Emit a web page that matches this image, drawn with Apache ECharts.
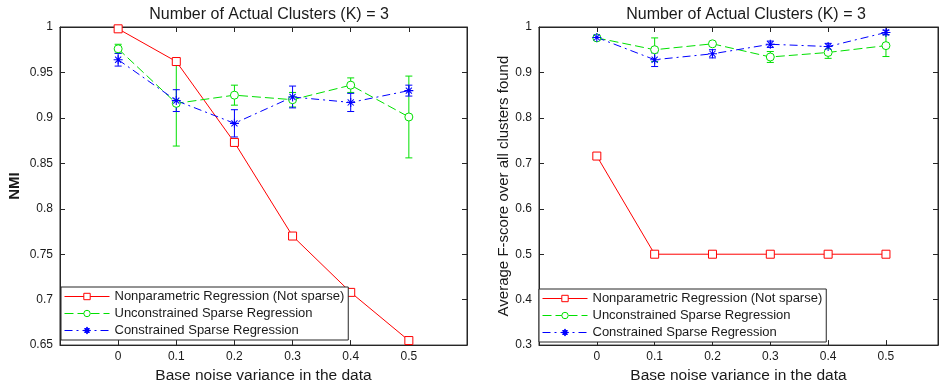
<!DOCTYPE html>
<html>
<head>
<meta charset="utf-8">
<script src="https://cdn.jsdelivr.net/npm/echarts@6/dist/echarts.min.js"></script>
<style>html,body{margin:0;padding:0;background:#fff;}#c{width:942px;height:389px;}</style>
</head>
<body>
<div id="c"></div>
<script>
// ---- data ----
const xVals = [0, 0.1, 0.2, 0.3, 0.4, 0.5];
const seriesNames = ['Nonparametric Regression (Not sparse)', 'Unconstrained Sparse Regression', 'Constrained Sparse Regression'];

const nmiNonparam    = [0.998, 0.962, 0.873, 0.770, 0.708, 0.655];
const nmiNonparamErr = [0.002, 0.002, 0.003, 0.002, 0.002, 0.003];
const nmiUncon       = [0.976, 0.916, 0.925, 0.920, 0.936, 0.901];
const nmiUnconErr    = [0.005, 0.047, 0.011, 0.008, 0.008, 0.045];
const nmiCon         = [0.964, 0.919, 0.894, 0.923, 0.917, 0.930];
const nmiConErr      = [0.007, 0.012, 0.015, 0.012, 0.010, 0.006];

const fNonparam      = [0.716, 0.500, 0.500, 0.500, 0.500, 0.500];
const fNonparamErr   = [0.007, 0.002, 0.002, 0.002, 0.002, 0.002];
const fUncon         = [0.976, 0.950, 0.963, 0.934, 0.944, 0.959];
const fUnconErr      = [0.004, 0.026, 0.005, 0.012, 0.013, 0.024];
const fCon           = [0.977, 0.928, 0.941, 0.962, 0.957, 0.988];
const fConErr        = [0.003, 0.015, 0.009, 0.007, 0.007, 0.005];

const titleText = 'Number of Actual Clusters (K) = 3';
const xName = 'Base noise variance in the data';
const yNameLeft = 'NMI';
const yNameRight = 'Average F-score over all clusters found';

// ---- styling ----
const FONT = '"Liberation Sans", Arial, sans-serif';
const TXT = '#1a1a1a';
const AX = '#262626';
const colors = ['#ff0000', '#00e000', '#0000ff'];
const dashes = ['solid', [9, 4], [8, 4, 2, 4]];
const asterisk = 'path://M0,4.4 L10,4.4 L10,5.6 L0,5.6 Z M4.4,0 L5.6,0 L5.6,10 L4.4,10 Z M1.2,2 L2,1.2 L8.8,8 L8,8.8 Z M8,1.2 L8.8,2 L2,8.8 L1.2,8 Z';
const symbols = ['rect', 'circle', asterisk];
const symSizes = [8, 8, 9];

function xLabelFmt(v) {
  if (v < -0.05 || v > 0.55) return '';
  return String(Math.round(v * 10) / 10);
}

function xAxes(gridIndex, max) {
  const common = {
    type: 'value', gridIndex: gridIndex, min: -0.1, max: max, interval: 0.1,
    splitLine: { show: false },
    axisLine: { show: true, onZero: false, lineStyle: { color: AX, width: 1 } },
    axisTick: { show: true, inside: true, length: 5, lineStyle: { color: AX } }
  };
  return [
    Object.assign({}, common, {
      position: 'bottom',
      name: xName, nameLocation: 'middle', nameGap: 21,
      nameTextStyle: { fontFamily: FONT, fontSize: 15.5, color: TXT },
      axisLabel: { formatter: xLabelFmt, fontFamily: FONT, fontSize: 12, color: TXT, margin: 6, showMinLabel: true, showMaxLabel: true }
    }),
    Object.assign({}, common, { position: 'top', axisLabel: { show: false } })
  ];
}

function yAxes(gridIndex, min, interval, name, nameGap, nameBold) {
  const common = {
    type: 'value', gridIndex: gridIndex, min: min, max: 1, interval: interval,
    splitLine: { show: false },
    axisLine: { show: true, onZero: false, lineStyle: { color: AX, width: 1 } },
    axisTick: { show: true, inside: true, length: 5, lineStyle: { color: AX } }
  };
  return [
    Object.assign({}, common, {
      position: 'left',
      name: name, nameLocation: 'middle', nameGap: nameGap,
      nameTextStyle: { fontFamily: FONT, fontSize: 15, color: TXT, fontWeight: nameBold ? 'bold' : 'normal' },
      axisLabel: { fontFamily: FONT, fontSize: 12, color: TXT, margin: 7,
        formatter: v => String(Math.round(v * 100) / 100) }
    }),
    Object.assign({}, common, { position: 'right', axisLabel: { show: false } })
  ];
}

function lineSeries(i, vals, axisIdx) {
  return {
    type: 'line', name: seriesNames[i],
    xAxisIndex: axisIdx, yAxisIndex: axisIdx,
    data: xVals.map((x, k) => [x, vals[k]]),
    symbol: symbols[i], symbolSize: symSizes[i],
    showSymbol: true, animation: false, z: 3,
    lineStyle: { color: colors[i], width: 1, type: dashes[i] },
    itemStyle: { color: i === 2 ? colors[i] : '#fff', borderColor: colors[i], borderWidth: i === 2 ? 0 : 1 }
  };
}

function errSeries(i, vals, errs, axisIdx) {
  return {
    type: 'custom', name: seriesNames[i] + ' error',
    xAxisIndex: axisIdx, yAxisIndex: axisIdx,
    data: xVals.map((x, k) => [x, vals[k] - errs[k], vals[k] + errs[k]]),
    encode: { x: 0, y: [1, 2] },
    animation: false, z: 2, silent: true,
    renderItem: function (params, api) {
      const x = api.value(0);
      const lo = api.coord([x, api.value(1)]);
      const hi = api.coord([x, api.value(2)]);
      const w = 3.5;
      const st = { stroke: colors[i], lineWidth: 1, fill: null };
      return {
        type: 'group',
        children: [
          { type: 'line', shape: { x1: lo[0], y1: lo[1], x2: hi[0], y2: hi[1] }, style: st },
          { type: 'line', shape: { x1: lo[0] - w, y1: lo[1], x2: lo[0] + w, y2: lo[1] }, style: st },
          { type: 'line', shape: { x1: hi[0] - w, y1: hi[1], x2: hi[0] + w, y2: hi[1] }, style: st }
        ]
      };
    }
  };
}

function legend(left, top) {
  return {
    show: true, orient: 'vertical', left: left, top: top,
    data: seriesNames,
    backgroundColor: '#fff', borderColor: AX, borderWidth: 1,
    padding: [3, 4, 3, 3], itemGap: 4, itemWidth: 45, itemHeight: 8,
    lineStyle: { width: 1 },
    itemStyle: { borderWidth: 1 },
    textStyle: { fontFamily: FONT, fontSize: 13, color: TXT, padding: [0, 0, 0, 0] },
    selectedMode: false, z: 10
  };
}

const chart = echarts.init(document.getElementById('c'), null, { renderer: 'canvas' });
chart.setOption({
  backgroundColor: '#fff',
  animation: false,
  title: [
    { text: titleText, left: 264, top: 2, textAlign: 'center', textStyle: { fontFamily: FONT, fontSize: 16, fontWeight: 'normal', color: TXT } },
    { text: titleText, left: 741, top: 2, textAlign: 'center', textStyle: { fontFamily: FONT, fontSize: 16, fontWeight: 'normal', color: TXT } }
  ],
  legend: [legend(61, 287), legend(539, 289)],
  grid: [
    { left: 60, top: 27, width: 407, height: 320, show: true, borderColor: AX, borderWidth: 1, backgroundColor: 'transparent' },
    { left: 539, top: 27, width: 399, height: 319, show: true, borderColor: AX, borderWidth: 1, backgroundColor: 'transparent' }
  ],
  xAxis: [].concat(xAxes(0, 0.6), xAxes(1, 0.59)),
  yAxis: [].concat(yAxes(0, 0.65, 0.05, yNameLeft, 38, true), yAxes(1, 0.3, 0.1, yNameRight, 28, false)),
  series: [
    errSeries(0, nmiNonparam, nmiNonparamErr, 0),
    errSeries(1, nmiUncon, nmiUnconErr, 0),
    errSeries(2, nmiCon, nmiConErr, 0),
    lineSeries(0, nmiNonparam, 0),
    lineSeries(1, nmiUncon, 0),
    lineSeries(2, nmiCon, 0),
    errSeries(0, fNonparam, fNonparamErr, 2),
    errSeries(1, fUncon, fUnconErr, 2),
    errSeries(2, fCon, fConErr, 2),
    lineSeries(0, fNonparam, 2),
    lineSeries(1, fUncon, 2),
    lineSeries(2, fCon, 2)
  ]
});
</script>
</body>
</html>
